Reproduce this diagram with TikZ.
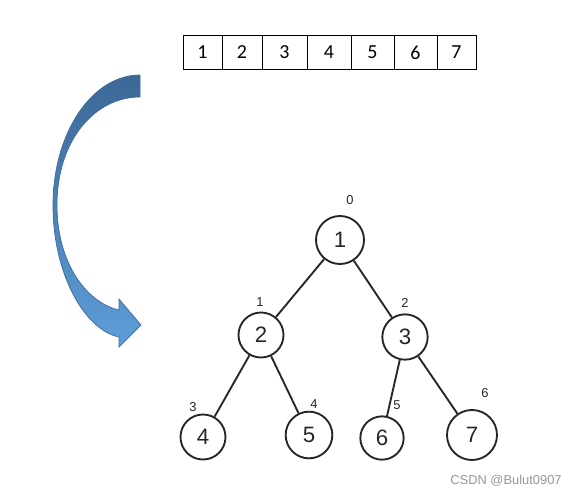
\documentclass[tikz,border=0pt]{standalone}
\usepackage{fontspec}
\setmainfont{Carlito}
\newfontfamily\handfont{Liberation Sans}
\newfontfamily\markfont{Liberation Sans}
\usetikzlibrary{positioning}
\definecolor{arrowDark}{RGB}{60,104,150}
\definecolor{arrowLight}{RGB}{93,157,216}
\definecolor{arrowEdge}{RGB}{62,108,152}
\definecolor{treeInk}{RGB}{38,38,38}
\definecolor{markGray}{RGB}{150,150,150}

\begin{document}
\begin{tikzpicture}[
    x=0.03cm, y=-0.03cm,
    cell/.style={rectangle, draw, line width=0.8pt, minimum height=1.02cm,
                 inner sep=0pt, font=\fontsize{17}{20}\selectfont},
    vert/.style={circle, draw=treeInk, line width=1.6pt, inner sep=0pt,
                 text=treeInk, font=\handfont\fontsize{19}{22}\selectfont},
    idx/.style={inner sep=0pt, text=treeInk, font=\handfont\fontsize{11}{13}\selectfont},
    link/.style={draw=treeInk, line width=1.6pt},
  ]
    \useasboundingbox (0,0) rectangle (586,498);

    % Array
    \foreach \a/\b [count=\i] in {183/222, 222/262, 262/307, 307/351, 351/394, 394/437, 437/476} {
      \pgfmathsetmacro\w{(\b-\a)*0.03}
      \node[cell, minimum width=\w cm] (cell\i) at ({(\a+\b)/2}, 52.5) {\i};
    }

    % Curved arrow
    \shade[top color=arrowDark, bottom color=arrowLight, draw=arrowEdge, line width=0.6pt]
      (140,75) .. controls (92,75) and (53,133) .. (53,205)
      .. controls (53,275) and (85,330) .. (119,337)
      -- (119,347) -- (141,325) -- (119,299) -- (119,310)
      .. controls (88,303) and (57,265) .. (57,205)
      .. controls (57,140) and (95,97) .. (140,97) -- cycle;

    % Tree
    \node[vert, minimum size=1.44cm] (n1) at (340,240) {1};
    \node[vert, minimum size=1.35cm] (n2) at (261,335) {2};
    \node[vert, minimum size=1.36cm] (n3) at (405,337) {3};
    \node[vert, minimum size=1.35cm] (n4) at (203,437) {4};
    \node[vert, minimum size=1.40cm] (n5) at (309,435) {5};
    \node[vert, minimum size=1.30cm] (n6) at (382,438) {6};
    \node[vert, minimum size=1.50cm] (n7) at (472,435) {7};

    % Indices
    \node[idx] (i0) at (350,200) {0};
    \node[idx] (i1) at (260,302) {1};
    \node[idx] (i2) at (405,303) {2};
    \node[idx] (i3) at (193,407) {3};
    \node[idx] (i4) at (314,404) {4};
    \node[idx] (i5) at (397,405) {5};
    \node[idx] (i6) at (485,393) {6};

    % Links
    \draw[link] (n1) -- (n2);
    \draw[link] (n1) -- (n3);
    \draw[link] (n2) -- (n4);
    \draw[link] (n2) -- (n5);
    \draw[link] (n3) -- (n6);
    \draw[link] (n3) -- (n7);

    % Watermark
    \node[text=markGray, font=\markfont\fontsize{11}{13}\selectfont] (mark) at (506,481) {CSDN @Bulut0907};
  \end{tikzpicture}
\end{document}
